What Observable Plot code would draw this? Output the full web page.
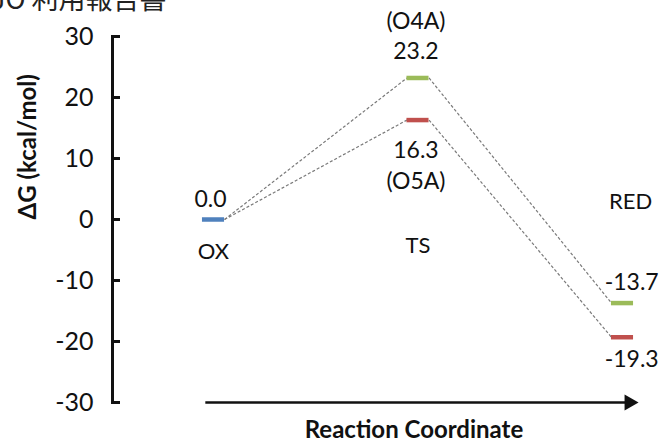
<!DOCTYPE html>
<html>
<head>
<meta charset="utf-8">
<script src="https://cdn.jsdelivr.net/npm/d3@7"></script>
<script src="https://cdn.jsdelivr.net/npm/@observablehq/plot@0.6"></script>
<style>
  html, body { margin: 0; padding: 0; background: #fff; }
  #wrap { position: relative; width: 665px; height: 446px; overflow: hidden; }
  #wrap svg { position: absolute; left: 0; top: 0; }
  #header { position: absolute; left: -9px; top: -16px; font-family: "Noto Sans CJK JP"; font-size: 27px; line-height: 1; color: #222; white-space: nowrap; z-index: 2; }
</style>
</head>
<body>
<div id="wrap"><div id="header">JO 利用報告書</div></div>
<script>
// ---- data ----
const states = ["OX", "TS", "RED"];
const seriesNames = ["O4A", "O5A"];
const o4aValues = [0.0, 23.2, -13.7];
const o5aValues = [0.0, 16.3, -19.3];
const yTicks = [30, 20, 10, 0, -10, -20, -30];
const yLabel = "ΔG (kcal/mol)";
const xLabel = "Reaction Coordinate";

// ---- build tables ----
const colors = {OX: "#4f81bd", O4A: "#9bbb59", O5A: "#c0504d"};
const levels = [];
states.forEach((s, i) => {
  if (i === 0) {
    levels.push({state: s, i, series: "OX", value: o4aValues[i], above: true});
  } else {
    const a = o4aValues[i], b = o5aValues[i];
    levels.push({state: s, i, series: "O4A", value: a, above: a >= b});
    levels.push({state: s, i, series: "O5A", value: b, above: b > a});
  }
});
const links = [];
[o4aValues, o5aValues].forEach((vals, k) => {
  for (let i = 0; i < vals.length - 1; i++) {
    links.push({series: seriesNames[k], i1: i, v1: vals[i], i2: i + 1, v2: vals[i + 1]});
  }
});
const hw = 0.054; // half width of a level bar in x units
const tags = levels.filter(d => d.state === "TS").map(d => ({...d, name: "(" + d.series + ")"}));
const stateLabelY = {OX: -5.3, TS: -4.4, RED: 2.9};
const labelDx = d => d.state === "RED" ? 0.045 : (d.state === "OX" ? -0.015 : -0.01);
const labelDy = d => d.state === "TS" ? (d.above ? -26 : 31) : (d.above ? -20 : 22);
const tagDy = d => d.above ? -56 : 62;

const font = "Lato, 'Open Sans', sans-serif";
const chart = Plot.plot({
  width: 665,
  height: 446,
  marginTop: 36,
  marginBottom: 44,
  marginLeft: 112,
  marginRight: 0,
  style: {fontFamily: font, background: "transparent", color: "#111", overflow: "visible"},
  x: {domain: [0, 2], range: [213, 622], axis: null},
  y: {domain: [-30, 30], axis: null},
  marks: [
    Plot.frame({anchor: "left", strokeWidth: 3, stroke: "#111"}),
    Plot.axisY({ticks: yTicks, tickSize: -8, strokeWidth: 3, fill: "none", label: null, stroke: "#111"}),
    Plot.axisY({ticks: yTicks, tickSize: 0, tickPadding: 19, fontSize: 25, label: null, tickFormat: d => String(d), fill: "#111"}),
    Plot.text([yLabel], {frameAnchor: "left", rotate: -90, dx: -84, fontSize: 24, fontWeight: "bold", fill: "#111"}),
    Plot.text([xLabel], {frameAnchor: "bottom", dx: 25, dy: 35, fontSize: 24, fontWeight: "bold", fill: "#111"}),
    Plot.link([0], {x1: () => -0.04, x2: () => 2.03, y1: () => -30, y2: () => -30, stroke: "#111", strokeWidth: 2.5}),
    Plot.dot([0], {x: () => 2.033, y: () => -30, symbol: "triangle", r: 6, fill: "#111", stroke: null, rotate: 90}),
    Plot.link(links, {x1: d => d.i1 + hw, y1: "v1", x2: d => d.i2 - hw, y2: "v2", stroke: "#7a7a7a", strokeWidth: 1.2, strokeDasharray: "3,2"}),
    Plot.ruleY(levels, {y: "value", x1: d => d.i - hw, x2: d => d.i + hw, stroke: d => colors[d.series], strokeWidth: 4.5}),
    ...levels.map(d => Plot.text([d], {
      x: e => e.i + labelDx(e), y: "value", text: e => e.value.toFixed(1),
      dy: labelDy(d), fontSize: 23, fill: "#111"
    })),
    ...tags.map(d => Plot.text([d], {
      x: e => e.i - 0.01, y: "value", text: "name", dy: tagDy(d), fontSize: 23, fill: "#111"
    })),
    Plot.text(states, {x: (s, i) => i + (i === 2 ? 0.04 : 0), y: s => stateLabelY[s], text: s => s, fontSize: 22, fill: "#111"})
  ]
});
document.getElementById("wrap").appendChild(chart);
</script>
</body>
</html>
